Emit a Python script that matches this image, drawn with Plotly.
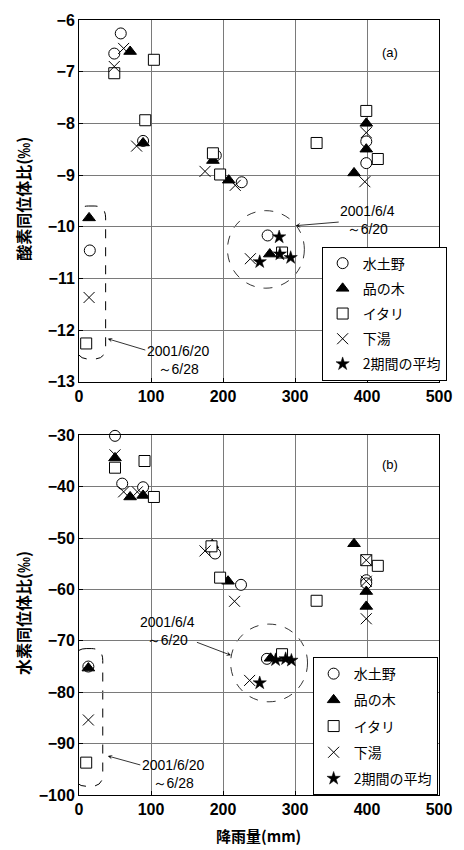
import plotly.graph_objects as go

# ---------------- data ----------------
names = ["水土野", "品の木", "イタリ", "下湯", "2期間の平均"]

# (a) oxygen isotope ratio
o_mizu_x = [58, 49, 89, 190, 226, 399, 399, 15, 262]
o_mizu_y = [-6.26, -6.65, -8.34, -8.62, -9.14, -8.35, -8.77, -10.46, -10.17]
o_shina_x = [71, 89, 186, 208, 399, 399, 382, 14, 265]
o_shina_y = [-6.61, -8.38, -8.72, -9.10, -8.0, -8.5, -8.96, -9.83, -10.53]
o_ita_x = [49, 104, 92, 186, 196, 330, 399, 415, 10, 282]
o_ita_y = [-7.03, -6.77, -7.94, -8.58, -8.99, -8.38, -7.76, -8.69, -12.26, -10.5]
o_shimo_x = [62, 49, 80, 175, 217, 399, 397, 14, 238]
o_shimo_y = [-6.55, -6.9, -8.44, -8.93, -9.2, -8.18, -9.13, -11.37, -10.62]
o_avg_x = [278, 251, 279, 294]
o_avg_y = [-10.2, -10.68, -10.53, -10.6]

# (b) hydrogen isotope ratio
h_mizu_x = [50, 60, 89, 189, 225, 399, 399, 13, 261]
h_mizu_y = [-30.1, -39.4, -40.1, -53.0, -59.1, -58.2, -58.8, -75.0, -73.5]
h_shina_x = [50, 71, 89, 185, 207, 382, 399, 399, 13, 266, 278]
h_shina_y = [-34.4, -42.0, -41.7, -51.3, -58.4, -51.1, -60.4, -63.3, -75.3, -73.4, -73.4]
h_ita_x = [50, 91, 104, 184, 196, 330, 399, 415, 10, 282]
h_ita_y = [-36.3, -35.0, -42.0, -51.6, -57.7, -62.2, -54.3, -55.4, -93.7, -72.6]
h_shimo_x = [50, 62, 81, 175, 216, 399, 399, 399, 13, 237]
h_shimo_y = [-33.8, -41.0, -41.0, -52.5, -62.3, -54.3, -58.4, -65.7, -85.4, -77.7]
h_avg_x = [273, 287, 295, 251]
h_avg_y = [-73.7, -73.5, -73.8, -78.2]

x_ticks = [0, 100, 200, 300, 400, 500]

# ---------------- figure ----------------
fig = go.Figure()

styles = [
    dict(symbol="circle", size=11, color="white", line=dict(color="black", width=1)),
    dict(symbol="triangle-up", size=11, color="black", line=dict(color="black", width=1)),
    dict(symbol="square", size=11, color="white", line=dict(color="black", width=1)),
    dict(symbol="x-thin-open", size=11, color="black", line=dict(color="black", width=1)),
    dict(symbol="star", size=10, color="black", line=dict(color="black", width=0.5)),
]

top = [(o_mizu_x, o_mizu_y), (o_shina_x, o_shina_y), (o_ita_x, o_ita_y),
       (o_shimo_x, o_shimo_y), (o_avg_x, o_avg_y)]
bot = [(h_mizu_x, h_mizu_y), (h_shina_x, h_shina_y), (h_ita_x, h_ita_y),
       (h_shimo_x, h_shimo_y), (h_avg_x, h_avg_y)]

for i, (xs, ys) in enumerate(top):
    fig.add_trace(go.Scatter(x=xs, y=ys, mode="markers", name=names[i],
                             marker=styles[i], xaxis="x", yaxis="y", cliponaxis=False,
                             legend="legend", legendgroup="a%d" % i))
for i, (xs, ys) in enumerate(bot):
    fig.add_trace(go.Scatter(x=xs, y=ys, mode="markers", name=names[i],
                             marker=styles[i], xaxis="x2", yaxis="y2", cliponaxis=False,
                             legend="legend2", legendgroup="b%d" % i))

tickfont = dict(family="Liberation Sans, Arial", size=16, color="black", weight="bold")
axis_common = dict(showline=True, mirror=True, linecolor="black", linewidth=1,
                   showgrid=True, gridcolor="#7a7a7a", gridwidth=1,
                   zeroline=False, tickfont=tickfont, ticks="inside", ticklen=4,
                   tickcolor="black")

fig.update_layout(
    width=464, height=850,
    margin=dict(l=79, r=20, t=15, b=55),
    paper_bgcolor="white", plot_bgcolor="white",
    xaxis=dict(domain=[0, 1], anchor="y", range=[0, 500], tickvals=x_ticks, **axis_common),
    yaxis=dict(domain=[0.5333, 1], anchor="x", range=[-13, -6], dtick=1, **axis_common),
    xaxis2=dict(domain=[0, 1], anchor="y2", range=[0, 500], tickvals=x_ticks, **axis_common),
    yaxis2=dict(domain=[0, 0.4641], anchor="x2", range=[-100, -30], dtick=10, **axis_common),
    legend=dict(x=0.674, y=0.7077, xanchor="left", yanchor="top",
                bordercolor="black", borderwidth=1, bgcolor="white",
                font=dict(family="Noto Sans CJK JP", size=14, color="black"),
                tracegroupgap=4),
    legend2=dict(x=0.649, y=0.178, xanchor="left", yanchor="top",
                 bordercolor="black", borderwidth=1, bgcolor="white",
                 font=dict(family="Noto Sans CJK JP", size=14, color="black"),
                 tracegroupgap=5),
    showlegend=True,
)

# axis titles and labels
ann_font = dict(family="Noto Sans CJK JP", size=16, color="black", weight="bold")
fig.add_annotation(text="酸素同位体比(‰)", x=-0.156, y=0.769, xref="paper", yref="paper",
                   textangle=-90, showarrow=False, font=ann_font, xanchor="center", yanchor="middle")
fig.add_annotation(text="水素同位体比(‰)", x=-0.156, y=0.2346, xref="paper", yref="paper",
                   textangle=-90, showarrow=False, font=ann_font, xanchor="center", yanchor="middle")
fig.add_annotation(text="降雨量(mm)", x=0.4986, y=-0.0526, xref="paper", yref="paper",
                   showarrow=False, font=dict(family="Noto Sans CJK JP", size=15, color="black",
                                              weight="bold"),
                   xanchor="center", yanchor="middle")
lab_font = dict(family="Liberation Sans, Arial", size=13, color="black")
fig.add_annotation(text="(a)", x=0.893, y=0.9705, xref="paper", yref="paper",
                   showarrow=False, font=lab_font)
fig.add_annotation(text="(b)", x=0.893, y=0.4269, xref="paper", yref="paper",
                   showarrow=False, font=lab_font)

# period annotations with arrows
note_font = dict(family="Liberation Sans, Arial", size=14, color="black")
arrow_kw = dict(showarrow=True, arrowhead=3, arrowsize=1, arrowwidth=0.8,
                arrowcolor="black", font=note_font, bgcolor="rgba(255,255,255,0)")
fig.add_annotation(text="2001/6/4<br>～6/20", x=301, y=-9.98, xref="x", yref="y",
                   ax=72, ay=-6, **arrow_kw)
fig.add_annotation(text="2001/6/20<br>～6/28", x=40, y=-12.17, xref="x", yref="y",
                   ax=70, ay=21, **arrow_kw)
fig.add_annotation(text="2001/6/4<br>～6/20", x=211, y=-72.8, xref="x2", yref="y2",
                   ax=-63, ay=-24, **arrow_kw)
fig.add_annotation(text="2001/6/20<br>～6/28", x=40, y=-92.4, xref="x2", yref="y2",
                   ax=65, ay=18, **arrow_kw)


def rounded_rect(x0, x1, y0, y1, rx, ry):
    # y0 top (greater), y1 bottom
    return (f"M {x0+rx},{y0} L {x1-rx},{y0} Q {x1},{y0} {x1},{y0-ry} "
            f"L {x1},{y1+ry} Q {x1},{y1} {x1-rx},{y1} "
            f"L {x0+rx},{y1} Q {x0},{y1} {x0},{y1+ry} "
            f"L {x0},{y0-ry} Q {x0},{y0} {x0+rx},{y0} Z")


dash_line = dict(color="black", width=1, dash="dash")
fig.add_shape(type="path", path=rounded_rect(-3, 37, -9.6, -12.56, 16, 0.23),
              xref="x", yref="y", line=dash_line, layer="below")
fig.add_shape(type="path", path=rounded_rect(-6, 33, -71.5, -98.3, 16, 2.3),
              xref="x2", yref="y2", line=dash_line, layer="below")
fig.add_shape(type="circle", x0=259.6 - 53.4, x1=259.6 + 53.4, y0=-10.44 - 0.75, y1=-10.44 + 0.75,
              xref="x", yref="y", line=dict(color="black", width=0.8, dash="dash"), layer="below")
fig.add_shape(type="circle", x0=264 - 53.4, x1=264 + 53.4, y0=-74.3 - 7.56, y1=-74.3 + 7.56,
              xref="x2", yref="y2", line=dict(color="black", width=0.8, dash="dash"), layer="below")

fig.write_html("out.html")
